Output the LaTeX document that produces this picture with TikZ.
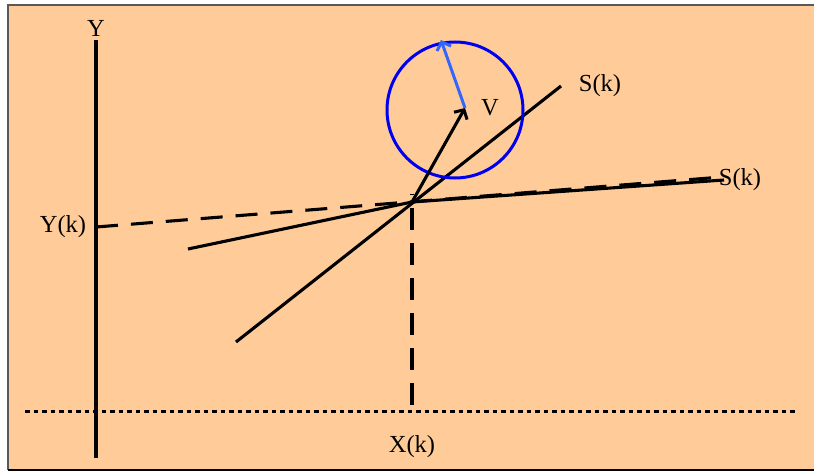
\documentclass[tikz,border=0pt]{standalone}
\usepackage{fontspec}
\setmainfont{Liberation Serif}
\usetikzlibrary{arrows.meta}
\definecolor{peach}{HTML}{FFCC99}
\definecolor{ringblue}{HTML}{0000F0}
\definecolor{lightarrow}{HTML}{3366FF}
\tikzset{
  axis/.style={line width=3.1pt,black},
  solidline/.style={line width=3.1pt,black,line join=round},
  dashline/.style={line width=3.1pt,black,dash pattern=on 22pt off 13pt},
  dotline/.style={line width=3pt,black,dash pattern=on 4.5pt off 4pt},
  lbl/.style={font=\fontsize{24.5}{26}\selectfont,inner sep=0pt},
  barb/.style={-{Straight Barb[length=7pt,width=15pt,line width=3pt]}}
}
\begin{document}
\begin{tikzpicture}[x=1pt,y=-1pt]
\useasboundingbox (0,0) rectangle (814,471);
\fill[peach] (8,5) rectangle (816,470);
\draw[gray!70!black,line width=1.5pt] (8,470) -- (8,5) -- (816,5);
\draw[black,line width=1.5pt] (8,470) -- (816,470);

% points
\coordinate (yTop) at (96,40);
\coordinate (yBot) at (96,458);
\coordinate (xL) at (25,411);
\coordinate (xR) at (795,411);
\coordinate (P) at (412,202);
\coordinate (yk) at (96,227);
\coordinate (xk) at (412,405);
\coordinate (vTop) at (412,194);
\coordinate (s1a) at (188,249);
\coordinate (s1b) at (724,180);
\coordinate (s1d) at (722,177);
\coordinate (s2a) at (236,342);
\coordinate (s2b) at (561,86);
\coordinate (V) at (465,108);
\coordinate (C) at (455,110);
\coordinate (W) at (441,40);

% labels
\node[lbl] (Ylab) at (96,28) {Y};
\node[lbl] (Yklab) at (63,227) {Y(k)};
\node[lbl] (Xklab) at (412,447) {X(k)};
\node[lbl] (S1lab) at (740,180) {S(k)};
\node[lbl] (S2lab) at (600,86) {S(k)};
\node[lbl] (Vlab) at (490,108) {V};

% axes
\draw[axis] (yTop) -- (yBot);
\draw[dotline] (xL) -- (xR);

% projections
\draw[dashline] (yk) -- (s1d);
\draw[dashline] (xk) -- (vTop);

% lines
\draw[solidline] (s1a) -- (P) -- (s1b);
\draw[solidline] (s2a) -- (s2b);

% circle and vectors
\draw[ringblue,line width=3pt] (C) circle[radius=68pt];
\draw[solidline,barb] (P) -- (V);
\draw[lightarrow,line width=3pt,-{Straight Barb[length=7pt,width=15pt,line width=3pt]}] (V) -- (W);
\end{tikzpicture}
\end{document}
